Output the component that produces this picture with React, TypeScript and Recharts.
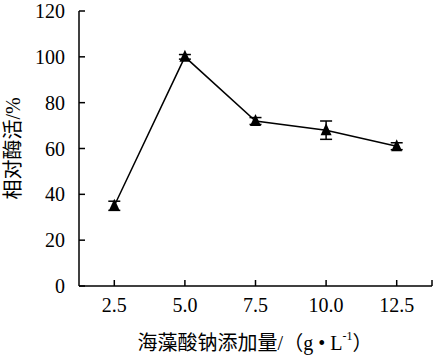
import React from 'react';
import { LineChart, Line, XAxis, YAxis, ErrorBar } from 'recharts';

const dosage = [2.5, 5.0, 7.5, 10.0, 12.5];
const activity = [35, 100, 72, 68, 61];
const activityErr = [2, 1, 1.5, 4, 1.5];
const xTicks = [2.5, 5.0, 7.5, 10.0, 12.5, 13.75];
const yTicks = [0, 20, 40, 60, 80, 100, 120];

const data = dosage.map((x, i) => ({ x, y: activity[i], err: activityErr[i] }));

const serif = "'Liberation Serif', 'DejaVu Serif', 'Noto Sans CJK SC', serif";

const Triangle = (props: any) => {
    const { cx, cy } = props;
    if (cx == null || cy == null) return null;
    return <path d={`M${cx},${cy - 7} L${cx + 5.5},${cy + 5} L${cx - 5.5},${cy + 5} Z`} fill="#000" />;
};

const YLabel = (props: any) => {
    const { viewBox } = props;
    const cy = viewBox.y + viewBox.height / 2;
    return (
        <text x={13} y={cy} transform={`rotate(-90 13 ${cy})`} textAnchor="middle" dominantBaseline="central"
            style={{ fontFamily: serif, fontSize: 20 }} fill="#000">
            相对酶活/%
        </text>
    );
};

const XLabel = () => (
    <text x={255} y={343} textAnchor="middle" dominantBaseline="central" style={{ fontFamily: serif, fontSize: 20 }} fill="#000">
        海藻酸钠添加量/（g • L<tspan dy={-7} style={{ fontSize: 12 }}>-1</tspan><tspan dy={7}>）</tspan>
    </text>
);

export default function App() {
    return (
        <div style={{ position: 'absolute', left: 0, top: 0, background: '#fff', fontFamily: serif }}>
            <LineChart width={433} height={357} data={data} margin={{ top: 11, right: 1, bottom: 31, left: 0 }}
                style={{ fontFamily: serif }}>
                <XAxis dataKey="x" type="number" domain={[1.25, 13.75]} ticks={xTicks} height={40}
                    tickFormatter={(v: number) => (v === 13.75 ? '' : v.toFixed(1))}
                    axisLine={{ stroke: '#000', strokeWidth: 1.5 }} tickLine={{ stroke: '#000', strokeWidth: 1.5 }}
                    tickSize={-6} tickMargin={18} interval={0}
                    tick={{ fill: '#000', fontSize: 20, style: { fontFamily: serif } }}
                    label={<XLabel />} />
                <YAxis type="number" domain={[0, 120]} ticks={yTicks} width={79} interval={0}
                    axisLine={{ stroke: '#000', strokeWidth: 1.5 }} tickLine={{ stroke: '#000', strokeWidth: 1.5 }}
                    tickSize={-6} tickMargin={20}
                    tick={{ fill: '#000', fontSize: 20, style: { fontFamily: serif } }}
                    label={<YLabel />} />
                <Line dataKey="y" stroke="#000" strokeWidth={1.5} dot={<Triangle />} activeDot={false}
                    isAnimationActive={false}>
                    <ErrorBar dataKey="err" width={6} stroke="#000" strokeWidth={1.5} direction="y" />
                </Line>
            </LineChart>
        </div>
    );
}
